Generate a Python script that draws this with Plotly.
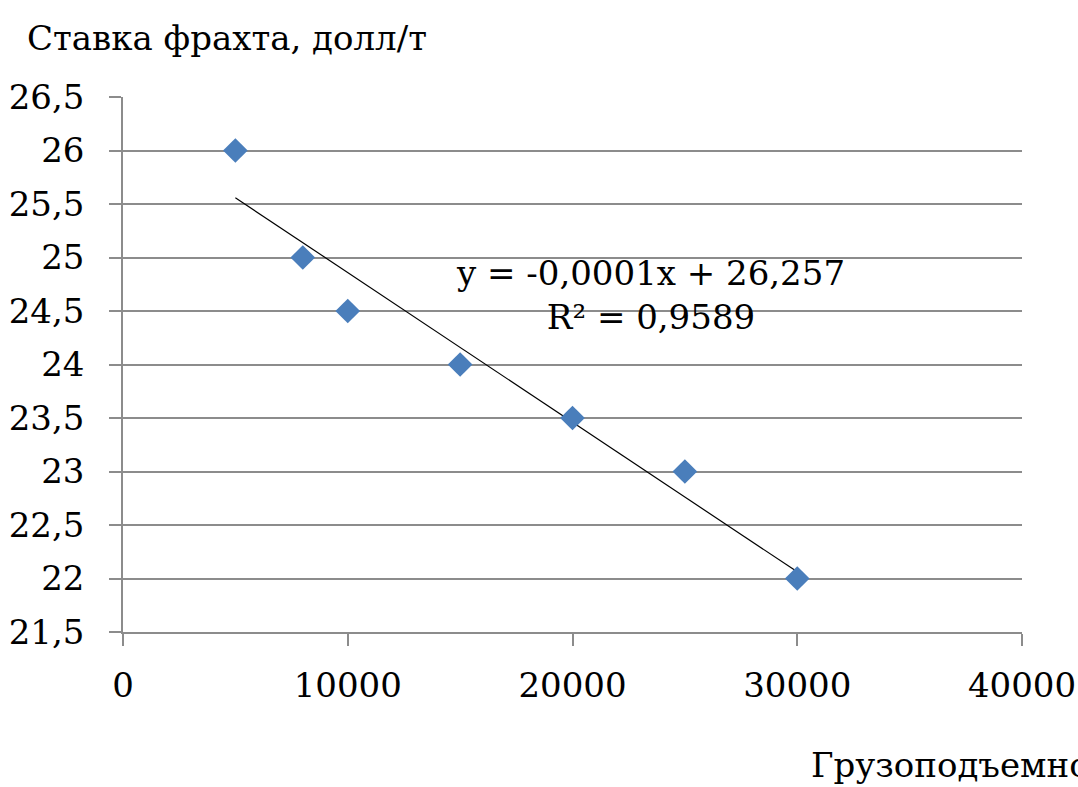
import numpy as np
import plotly.graph_objects as go

# Data
capacity = [5000, 8000, 10000, 15000, 20000, 25000, 30000]
freight_rate = [26, 25, 24.5, 24, 23.5, 23, 22]

y_tickvals = [21.5, 22, 22.5, 23, 23.5, 24, 24.5, 25, 25.5, 26, 26.5]
y_ticktext = ["21,5", "22", "22,5", "23", "23,5", "24", "24,5", "25", "25,5", "26", "26,5"]
x_tickvals = [0, 10000, 20000, 30000, 40000]
x_ticktext = ["0", "10000", "20000", "30000", "40000"]

y_title = "Ставка фрахта, долл/т"
x_title = "Грузоподъемность, т"
equation = "y = -0,0001x + 26,257<br>R² = 0,9589"

# Linear trendline (least squares)
slope, intercept = np.polyfit(capacity, freight_rate, 1)
tx = [min(capacity), max(capacity)]
ty = [slope * v + intercept for v in tx]

FONT = "DejaVu Serif"
FS = 34
GRID = "#8c8c8c"

fig = go.Figure()
fig.add_trace(go.Scatter(
    x=tx, y=ty, mode="lines",
    line=dict(color="black", width=1.2),
    hoverinfo="skip", showlegend=False,
))
fig.add_trace(go.Scatter(
    x=capacity, y=freight_rate, mode="markers",
    marker=dict(symbol="diamond", size=19, color="#4a7ebb"),
    showlegend=False,
))

fig.update_layout(
    width=1078, height=787,
    margin=dict(l=123, r=56, t=97, b=155, autoexpand=False),
    paper_bgcolor="white", plot_bgcolor="white",
    font=dict(family=FONT, size=FS, color="black"),
    xaxis=dict(
        range=[0, 40000], tickvals=x_tickvals, ticktext=x_ticktext,
        showgrid=False, zeroline=False, automargin=False,
        showline=True, linecolor=GRID, linewidth=1.5,
        ticks="outside", ticklen=12, tickwidth=1.5, tickcolor=GRID,
        ticklabelstandoff=10,
        tickfont=dict(family=FONT, size=FS, color="black"),
    ),
    yaxis=dict(
        range=[21.5, 26.5], tickvals=y_tickvals, ticktext=y_ticktext,
        showgrid=True, gridcolor=GRID, gridwidth=1.5, zeroline=False, automargin=False,
        showline=True, linecolor=GRID, linewidth=1.5,
        ticks="outside", ticklen=12, tickwidth=1.5, tickcolor=GRID,
        ticklabelstandoff=18,
        tickfont=dict(family=FONT, size=FS, color="black"),
    ),
    annotations=[
        dict(text=y_title, xref="paper", yref="paper",
             x=(25 - 123) / 898, y=(632 - 38) / 535,
             xanchor="left", yanchor="middle", showarrow=False,
             font=dict(family=FONT, size=FS, color="black")),
        dict(text=x_title, xref="paper", yref="paper",
             x=(808 - 123) / 898, y=(632 - 765) / 535,
             xanchor="left", yanchor="middle", showarrow=False,
             font=dict(family=FONT, size=FS, color="black")),
        dict(text=equation, xref="paper", yref="paper",
             x=(650 - 123) / 898, y=(632 - 295) / 535,
             xanchor="center", yanchor="middle", align="center", showarrow=False,
             font=dict(family=FONT, size=FS, color="black")),
    ],
)

fig.write_html("out.html")
